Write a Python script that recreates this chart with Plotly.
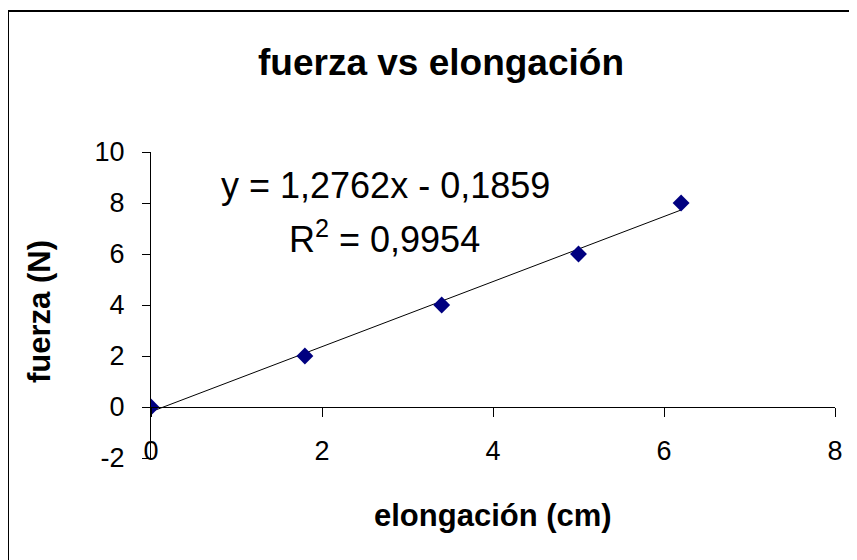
import numpy as np
import plotly.graph_objects as go

elongacion = [0, 1.8, 3.4, 5.0, 6.2]
fuerza = [0, 2, 4, 6, 8]
x_ticks = [0, 2, 4, 6, 8]
y_ticks = [-2, 0, 2, 4, 6, 8, 10]
eq_text = "y = 1,2762x - 0,1859"
r2_text = "R<sup>2</sup> = 0,9954"

slope, intercept = np.polyfit(elongacion, fuerza, 1)
fit_x = [min(elongacion), max(elongacion)]
fit_y = [slope * v + intercept for v in fit_x]

FONT = "Liberation Sans, Arial, sans-serif"

# page offset of the figure inside the html body
OFF = 8
W, H = 857, 560
l, t = 151 - OFF, 152 - OFF
r, b = W - (835 - OFF), H - (458 - OFF)
pw, ph = W - l - r, H - t - b


def px(xp):  # page x -> paper x
    return (xp - OFF - l) / pw


def py(yp):  # page y -> paper y
    return (H - b - (yp - OFF)) / ph


fig = go.Figure()
fig.add_trace(go.Scatter(x=fit_x, y=fit_y, mode="lines",
                         line=dict(color="black", width=1), showlegend=False))
fig.add_trace(go.Scatter(x=elongacion, y=fuerza, mode="markers",
                         marker=dict(symbol="diamond", size=13, color="#000080",
                                     line=dict(width=0)),
                         showlegend=False))

fig.update_layout(
    width=W, height=H,
    margin=dict(l=l, r=r, t=t, b=b),
    paper_bgcolor="white", plot_bgcolor="white",
    font=dict(family=FONT, color="black"),
    title=dict(text="<b>fuerza vs elongación</b>", x=(441 - OFF) / W, xref="container",
               xanchor="center", y=1 - (62 - OFF) / H, yref="container", yanchor="middle",
               font=dict(size=37, family=FONT, color="black")),
    xaxis=dict(range=[0, 8], tickvals=x_ticks, ticktext=[str(v) for v in x_ticks],
               anchor="free", position=2/12, showline=True, linecolor="black",
               linewidth=1, ticks="outside", ticklen=9, tickcolor="black",
               showgrid=False, zeroline=False, tickfont=dict(size=27),
               ticklabelstandoff=11),
    yaxis=dict(range=[-2, 10], tickvals=y_ticks, ticktext=[str(v) for v in y_ticks],
               showline=True, linecolor="black", linewidth=1, ticks="outside",
               ticklen=8, tickcolor="black", showgrid=False, zeroline=False,
               tickfont=dict(size=27), ticklabelstandoff=12),
    annotations=[
        dict(text="<b>elongación (cm)</b>", x=px(493), y=py(515), xref="paper",
             yref="paper", xanchor="center", yanchor="middle", showarrow=False,
             font=dict(size=31)),
        dict(text="<b>fuerza (N)</b>", x=px(39), y=py(312), xref="paper", yref="paper",
             xanchor="center", yanchor="middle", showarrow=False, textangle=-90,
             font=dict(size=31)),
        dict(text=eq_text, x=px(385) * 8, y=10 - (1 - py(185)) * 12, xref="x", yref="y",
             xanchor="center", yanchor="middle", showarrow=False, font=dict(size=36)),
        dict(text=r2_text, x=px(384) * 8, y=10 - (1 - py(237)) * 12, xref="x", yref="y",
             xanchor="center", yanchor="middle", showarrow=False, font=dict(size=36)),
    ],
)

fig.add_shape(type="rect", xref="paper", yref="paper",
              x0=px(8), x1=px(875), y0=py(580), y1=py(11),
              line=dict(color="black", width=2), layer="below")

fig.write_html("out.html")
